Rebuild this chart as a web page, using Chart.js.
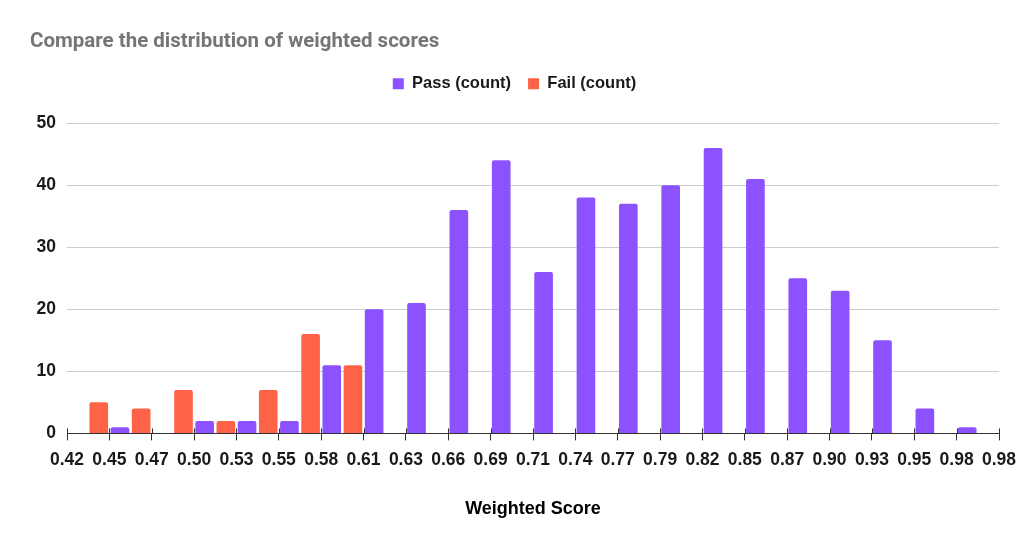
<!DOCTYPE html>
<html lang="en">
  <head>
    <meta charset="UTF-8" />
    <title>Compare the distribution of weighted scores</title>
    <script src="https://cdn.jsdelivr.net/npm/chart.js"></script>
    <style>
      html,
      body {
        margin: 0;
        padding: 0;
        background: #ffffff;
      }
      #chart-container {
        width: 1027px;
        height: 545px;
      }
    </style>
  </head>
  <body>
    <div id="chart-container">
      <canvas id="scoreChart" width="1027" height="545"></canvas>
    </div>

    <script>
      // bucket boundaries shown under the axis (23 edges -> 22 buckets)
      const tickLabels = [
        "0.42", "0.45", "0.47", "0.50", "0.53", "0.55", "0.58", "0.61",
        "0.63", "0.66", "0.69", "0.71", "0.74", "0.77", "0.79", "0.82",
        "0.85", "0.87", "0.90", "0.93", "0.95", "0.98", "0.98",
      ];
      const passCounts = [
        0, 1, 0, 2, 2, 2, 11, 20, 21, 36, 44,
        26, 38, 37, 40, 46, 41, 25, 23, 15, 4, 1,
      ];
      const failCounts = [
        5, 4, 7, 2, 7, 16, 11, 0, 0, 0, 0,
        0, 0, 0, 0, 0, 0, 0, 0, 0, 0, 0,
      ];

      const textFont = "'Liberation Sans', Arial, sans-serif";

      // each bucket sits between two edges, so its bar goes at index + 0.5
      const toPoints = (counts) => counts.map((v, i) => ({ x: i + 0.5, y: v }));

      // leave some room between the legend and the plot
      const legendGap = {
        id: "legendGap",
        beforeInit(chart) {
          const fit = chart.legend.fit;
          chart.legend.fit = function () {
            fit.call(this);
            this.height += 21;
          };
        },
      };

      // tick marks poke a little above the axis line too
      const tickUp = {
        id: "tickUp",
        afterDatasetsDraw(chart) {
          const { ctx, scales } = chart;
          const x = scales.x;
          const y0 = x.top;
          ctx.save();
          ctx.strokeStyle = "#333333";
          ctx.lineWidth = 1;
          ctx.beginPath();
          x.ticks.forEach((t) => {
            const px = Math.round(x.getPixelForValue(t.value)) + 0.5;
            ctx.moveTo(px, y0 - 5);
            ctx.lineTo(px, y0);
          });
          ctx.stroke();
          ctx.restore();
        },
      };

      const ctx = document.getElementById("scoreChart").getContext("2d");
      new Chart(ctx, {
        type: "bar",
        data: {
          datasets: [
            {
              label: "Pass (count)",
              data: toPoints(passCounts),
              backgroundColor: "#8c52ff",
              borderRadius: { topLeft: 2, topRight: 2 },
              borderSkipped: "start",
              barPercentage: 0.88,
              categoryPercentage: 1.0,
            },
            {
              label: "Fail (count)",
              data: toPoints(failCounts),
              backgroundColor: "#ff6347",
              borderRadius: { topLeft: 2, topRight: 2 },
              borderSkipped: "start",
              barPercentage: 0.88,
              categoryPercentage: 1.0,
            },
          ],
        },
        options: {
          responsive: false,
          animation: false,
          layout: { padding: { left: 30, right: 28, top: 0, bottom: 0 } },
          plugins: {
            title: {
              display: true,
              text: "Compare the distribution of weighted scores",
              align: "start",
              color: "#757575",
              font: { family: "Roboto, sans-serif", size: 20.5, weight: "bold" },
              padding: { top: 30, bottom: 4 },
            },
            legend: {
              position: "top",
              labels: {
                color: "#1a1a1a",
                font: { family: textFont, size: 16.5, weight: "bold" },
                boxWidth: 11,
                boxHeight: 11,
                padding: 17,
              },
            },
            tooltip: { enabled: false },
          },
          scales: {
            x: {
              type: "linear",
              offset: false,
              min: 0,
              max: tickLabels.length - 1,
              afterBuildTicks: (scale) => {
                scale.ticks = tickLabels.map((_, i) => ({ value: i }));
              },
              ticks: {
                autoSkip: false,
                maxRotation: 0,
                padding: 9,
                color: "#1a1a1a",
                font: { family: textFont, size: 17.5, weight: "bold" },
                callback: (value, index) => tickLabels[index],
              },
              grid: {
                offset: false,
                drawOnChartArea: false,
                drawTicks: true,
                tickLength: 7,
                color: "#333333",
              },
              border: { display: true, color: "#333333", width: 1 },
              title: {
                display: true,
                text: "Weighted Score",
                color: "#000000",
                font: { family: textFont, size: 18, weight: "bold" },
                padding: { top: 19, bottom: 25 },
              },
            },
            y: {
              min: 0,
              max: 50,
              afterFit: (scale) => {
                scale.width = 37;
              },
              ticks: {
                stepSize: 10,
                padding: 11,
                color: "#1a1a1a",
                font: { family: textFont, size: 17.5, weight: "bold" },
              },
              grid: { color: "#cccccc", drawTicks: false },
              border: { display: false },
            },
          },
        },
        plugins: [legendGap, tickUp],
      });
    </script>
  </body>
</html>
